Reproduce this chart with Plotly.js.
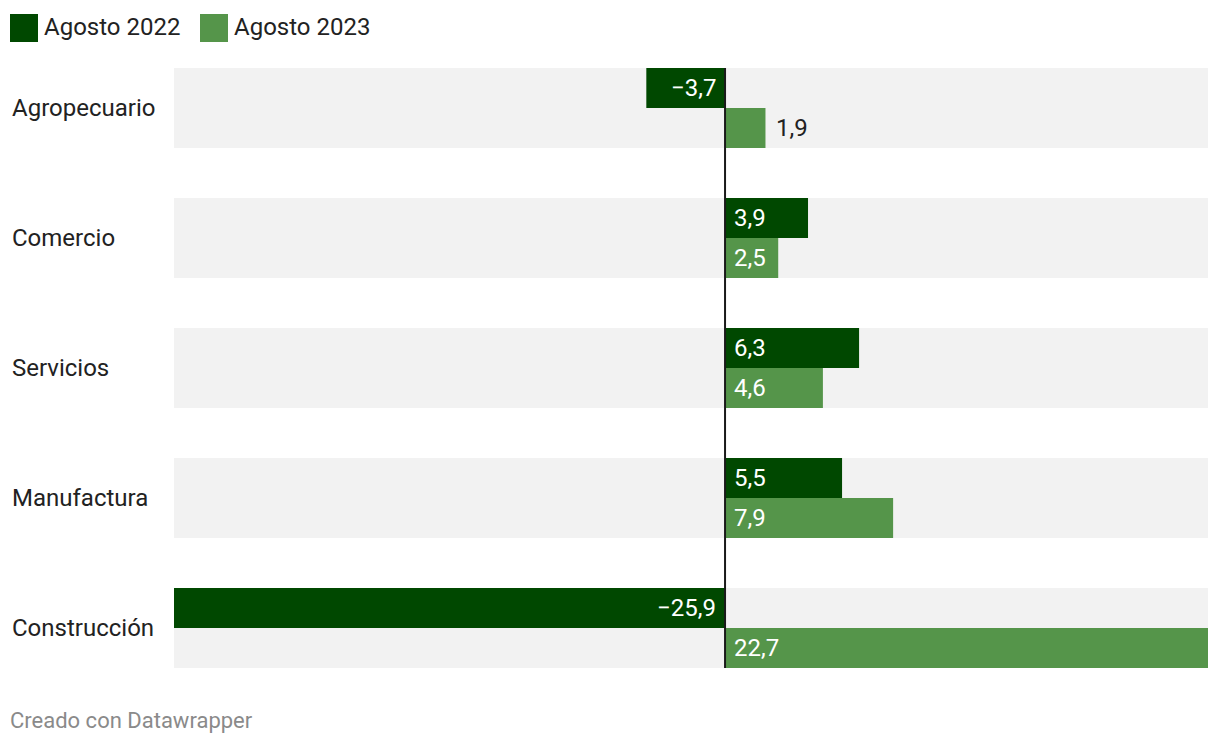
<!DOCTYPE html>
<html>
<head>
<meta charset="utf-8">
<script src="https://cdn.plot.ly/plotly-3.0.1.min.js"></script>
<style>html,body{margin:0;padding:0;background:#fff;}#chart{width:1220px;height:746px;}</style>
</head>
<body>
<div id="chart"></div>
<script>
const categories = ["Agropecuario", "Comercio", "Servicios", "Manufactura", "Construcción"];
const seriesNames = ["Agosto 2022", "Agosto 2023"];
const values2022 = [-3.7, 3.9, 6.3, 5.5, -25.9];
const values2023 = [1.9, 2.5, 4.6, 7.9, 22.7];
const colors = ["#004800", "#55954a"];
const footerText = "Creado con Datawrapper";

const FONT = "Roboto, 'Open Sans', sans-serif";
const W = 1220, H = 746;
const margin = {l: 174, r: 12, t: 43, b: 53};
const plotW = W - margin.l - margin.r;
const xMin = Math.min(...values2022, ...values2023);
const xMax = Math.max(...values2022, ...values2023);
const pxPerUnit = plotW / (xMax - xMin);

function fmt(v) {
  const s = Math.abs(v).toFixed(1).replace(".", ",");
  return (v < 0 ? "\u2212" : "") + s;
}

const allSeries = [values2022, values2023];
const traces = allSeries.map((vals, i) => ({
  type: "bar",
  orientation: "h",
  name: seriesNames[i],
  y: categories,
  x: vals,
  marker: {color: colors[i], line: {width: 0}},
  hoverinfo: "skip",
  showlegend: false
}));

const bargap = 50 / 130;
const halfBand = (1 - bargap) / 2;

const shapes = [];
const annotations = [];

// background bands
categories.forEach((c, i) => {
  shapes.push({
    type: "rect", layer: "below",
    xref: "x domain", x0: 0, x1: 1,
    yref: "y", y0: i - halfBand, y1: i + halfBand,
    fillcolor: "#f2f2f2", line: {width: 0}
  });
  annotations.push({
    xref: "paper", x: 0, xshift: -164, xanchor: "left",
    yref: "y", y: c, yanchor: "middle",
    text: c, showarrow: false,
    font: {family: FONT, size: 24, color: "#222"}
  });
});

// zero line
shapes.push({
  type: "line", layer: "above",
  xref: "x", x0: 0, x1: 0,
  yref: "y", y0: -halfBand, y1: categories.length - 1 + halfBand,
  line: {color: "#1a1a1a", width: 2}
});

// value labels
allSeries.forEach((vals, si) => {
  const yshift = si === 0 ? 20 : -20;
  vals.forEach((v, i) => {
    const barPx = Math.abs(v) * pxPerUnit;
    const textPx = fmt(v).length * 11 + 20;
    const inside = barPx >= textPx;
    let ann = {
      xref: "x", yref: "y", y: categories[i], yshift: yshift, yanchor: "middle",
      text: fmt(v), showarrow: false,
      font: {family: FONT, size: 24, color: inside ? "#ffffff" : "#222"}
    };
    ann.xanchor = v < 0 ? "right" : "left";
    if (inside) {
      ann.x = 0;
      ann.xshift = v < 0 ? -7 : 7;
    } else {
      ann.x = v;
      ann.xshift = v < 0 ? -9 : 9;
    }
    annotations.push(ann);
  });
});

// legend (custom, large squares)
const legendX = [10, 200];
seriesNames.forEach((n, i) => {
  shapes.push({
    type: "rect", xref: "paper", yref: "paper",
    xsizemode: "pixel", ysizemode: "pixel",
    xanchor: 0, yanchor: 1,
    x0: legendX[i] - margin.l, x1: legendX[i] + 28 - margin.l,
    y0: margin.t - 42, y1: margin.t - 14,
    fillcolor: colors[i], line: {width: 0}
  });
  annotations.push({
    xref: "paper", yref: "paper", x: 0, y: 1,
    xshift: legendX[i] + 32 - margin.l, yshift: margin.t - 27,
    xanchor: "left", yanchor: "middle",
    text: n, showarrow: false,
    font: {family: FONT, size: 24, color: "#222"}
  });
});

// footer
annotations.push({
  xref: "paper", yref: "paper", x: 0, y: 0,
  xshift: 8 - margin.l, yshift: -(720 - (H - margin.b)),
  xanchor: "left", yanchor: "middle",
  text: footerText, showarrow: false,
  font: {family: FONT, size: 22, color: "#8a8a8a"}
});

const layout = {
  width: W, height: H,
  margin: margin,
  paper_bgcolor: "#ffffff",
  plot_bgcolor: "#ffffff",
  barmode: "group",
  bargap: bargap,
  bargroupgap: 0,
  showlegend: false,
  font: {family: FONT},
  xaxis: {
    range: [xMin, xMax],
    showgrid: false, zeroline: false, showticklabels: false,
    showline: false, ticks: "", fixedrange: true
  },
  yaxis: {
    type: "category",
    categoryorder: "array", categoryarray: categories,
    range: [categories.length - 0.5, -0.5],
    showgrid: false, zeroline: false, showticklabels: false,
    showline: false, ticks: "", fixedrange: true
  },
  shapes: shapes,
  annotations: annotations
};

Plotly.newPlot("chart", traces, layout, {displayModeBar: false, staticPlot: true});
</script>
</body>
</html>
